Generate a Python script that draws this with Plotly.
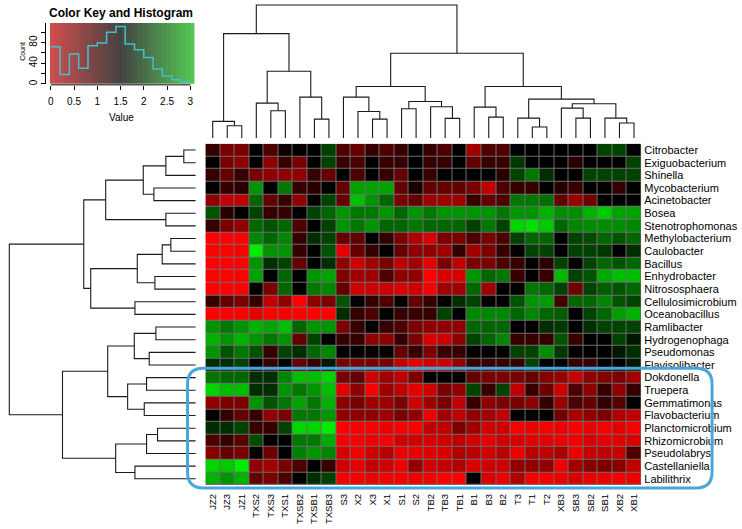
import plotly.graph_objects as go

W, H = 742, 529

col_labels = ["JZ2", "JZ3", "JZ1", "TXS2", "TXS3", "TXS1", "TXSB2", "TXSB1", "TXSB3",
              "S3", "X2", "X3", "X1", "S1", "S2", "TB2", "TB3", "TB1", "B1", "B3", "B2",
              "T3", "T1", "T2", "XB3", "SB3", "SB2", "SB1", "XB2", "XB1"]

row_labels = ["Citrobacter", "Exiguobacterium", "Shinella", "Mycobacterium", "Acinetobacter",
              "Bosea", "Stenotrophomonas", "Methylobacterium", "Caulobacter", "Bacillus",
              "Enhydrobacter", "Nitrososphaera", "Cellulosimicrobium", "Oceanobacillus",
              "Ramlibacter", "Hydrogenophaga", "Pseudomonas", "Flavisolibacter", "Dokdonella",
              "Truepera", "Gemmatimonas", "Flavobacterium", "Planctomicrobium", "Rhizomicrobium",
              "Pseudolabrys", "Castellaniella", "Labilithrix"]

values = [
    [1.3, 1.0, 1.0, 1.5, 1.2, 1.45, 1.5, 1.5, 1.8, 1.2, 1.1, 1.3, 1.2, 1.3, 1.5, 1.3, 1.2, 1.5, 0.8, 1.2, 1.2, 1.5, 1.5, 1.5, 1.5, 1.5, 1.5, 1.8, 1.8, 1.5],
    [1.5, 1.0, 0.9, 1.5, 0.9, 1.3, 1.0, 1.5, 1.8, 1.3, 1.2, 1.5, 1.3, 1.3, 1.5, 1.3, 1.3, 1.5, 1.1, 1.3, 1.3, 1.75, 1.5, 1.5, 1.5, 1.35, 1.5, 1.5, 1.5, 1.8],
    [1.3, 1.1, 1.3, 1.0, 0.9, 0.9, 0.9, 1.3, 1.1, 1.5, 1.2, 1.5, 1.3, 1.1, 1.5, 1.3, 1.5, 1.5, 1.5, 1.5, 1.35, 1.8, 2.1, 1.7, 1.5, 1.5, 1.8, 1.8, 1.8, 1.8],
    [1.5, 1.3, 1.35, 2.3, 1.5, 2.1, 1.3, 1.35, 1.5, 1.1, 2.4, 2.4, 2.4, 1.1, 1.4, 1.1, 1.1, 1.1, 1.0, 0.6, 1.2, 1.3, 1.3, 1.5, 1.35, 1.3, 1.5, 1.5, 1.3, 1.5],
    [0.9, 0.6, 0.6, 2.0, 1.1, 1.3, 0.9, 1.5, 1.8, 1.1, 2.6, 2.3, 2.0, 1.0, 1.1, 0.8, 0.8, 0.8, 1.3, 1.1, 1.2, 2.1, 2.1, 2.05, 1.1, 0.85, 1.05, 1.5, 1.5, 1.5],
    [1.9, 1.35, 1.5, 1.8, 1.3, 1.3, 1.5, 1.8, 2.0, 2.3, 2.1, 2.1, 2.3, 2.0, 2.3, 2.1, 2.3, 2.3, 2.3, 2.3, 2.1, 2.3, 2.3, 2.5, 2.25, 2.25, 2.5, 2.7, 2.4, 2.4],
    [1.3, 1.0, 0.9, 2.0, 1.9, 2.0, 1.2, 1.5, 1.8, 2.3, 2.1, 2.3, 2.0, 2.0, 2.1, 2.0, 2.0, 2.0, 1.8, 2.1, 1.8, 2.8, 2.9, 2.7, 2.0, 2.2, 2.25, 2.25, 2.25, 2.2],
    [0.0, 0.0, 0.0, 2.2, 2.0, 2.2, 1.3, 1.7, 1.8, 1.1, 1.1, 1.5, 1.3, 1.0, 0.7, 0.4, 1.0, 1.0, 1.2, 1.0, 1.2, 1.8, 2.0, 2.0, 1.5, 1.8, 1.85, 2.0, 1.9, 2.0],
    [0.0, 0.0, 0.0, 3.0, 2.3, 2.3, 1.3, 1.5, 1.9, 0.3, 1.1, 1.3, 1.5, 1.1, 0.9, 0.9, 0.8, 1.3, 0.8, 1.0, 1.3, 1.5, 1.8, 1.8, 1.5, 1.8, 1.8, 1.75, 1.5, 1.7],
    [0.0, 0.0, 0.0, 2.3, 1.7, 1.8, 1.1, 1.5, 1.7, 0.9, 0.5, 0.8, 1.0, 0.6, 0.8, 0.3, 1.0, 0.6, 1.0, 1.0, 1.2, 1.3, 1.5, 1.35, 1.8, 1.5, 1.8, 2.0, 1.9, 2.0],
    [0.0, 0.0, 0.0, 2.4, 1.5, 2.0, 1.5, 2.3, 2.4, 1.0, 0.8, 0.8, 1.2, 0.9, 0.9, 0.0, 0.4, 0.4, 2.3, 2.0, 2.1, 1.3, 1.5, 1.3, 2.55, 1.8, 1.9, 2.45, 2.6, 2.6],
    [0.0, 0.0, 0.0, 1.5, 1.0, 2.0, 1.5, 2.1, 2.2, 1.1, 0.5, 0.5, 0.5, 0.4, 0.5, 0.1, 0.8, 0.8, 2.0, 0.8, 1.5, 1.5, 2.1, 2.0, 1.8, 1.05, 1.8, 1.95, 1.9, 2.0],
    [1.3, 1.1, 1.0, 1.3, 0.6, 0.9, 0.0, 0.9, 1.0, 1.9, 1.5, 1.3, 1.2, 1.5, 1.1, 1.3, 1.5, 1.7, 1.8, 1.5, 1.5, 1.9, 2.3, 2.35, 1.25, 2.0, 2.0, 2.2, 1.9, 1.8],
    [0.0, 0.0, 0.0, 0.3, 0.0, 0.1, 0.0, 0.0, 0.0, 1.7, 1.3, 1.2, 1.5, 1.3, 1.3, 1.3, 1.8, 1.5, 2.2, 2.2, 2.2, 2.0, 2.2, 2.0, 1.95, 1.5, 1.8, 2.0, 2.35, 2.5],
    [2.3, 2.1, 2.3, 2.5, 2.4, 2.6, 2.0, 2.3, 2.3, 1.0, 1.3, 1.5, 1.3, 1.2, 1.0, 0.9, 0.9, 0.9, 2.0, 2.0, 2.0, 1.5, 1.5, 1.7, 1.75, 1.5, 1.7, 1.8, 1.8, 1.8],
    [2.5, 2.3, 2.5, 2.3, 2.1, 2.3, 1.1, 1.8, 1.5, 1.3, 1.3, 0.9, 0.9, 1.3, 1.0, 0.4, 0.5, 0.9, 1.8, 2.0, 2.2, 1.3, 1.3, 1.3, 1.9, 1.3, 1.5, 1.5, 1.8, 1.6],
    [2.3, 1.9, 2.1, 1.9, 1.3, 1.8, 1.7, 2.0, 2.2, 1.5, 1.5, 1.5, 1.5, 1.1, 1.3, 1.0, 1.3, 1.3, 1.5, 1.5, 1.5, 1.8, 1.8, 2.25, 1.75, 1.5, 1.5, 1.5, 1.6, 1.7],
    [1.7, 1.7, 1.8, 1.5, 1.3, 1.5, 1.1, 1.3, 1.6, 1.0, 1.0, 1.0, 1.0, 0.6, 0.3, 0.5, 0.5, 0.9, 1.3, 1.3, 1.3, 1.3, 1.8, 1.5, 1.5, 1.3, 1.3, 1.5, 1.5, 1.6],
    [2.1, 2.0, 2.0, 1.7, 1.7, 2.2, 2.6, 2.6, 2.8, 1.0, 1.1, 0.5, 0.8, 0.6, 1.0, 1.5, 1.5, 1.5, 1.1, 1.0, 1.0, 1.0, 1.1, 0.95, 0.85, 0.55, 0.9, 0.95, 1.0, 0.8],
    [2.8, 2.6, 2.6, 1.7, 1.7, 2.3, 2.1, 2.3, 2.6, 0.3, 0.9, 0.1, 0.8, 0.6, 0.3, 0.5, 1.0, 0.9, 1.8, 1.3, 1.8, 0.6, 1.3, 1.05, 0.5, 1.2, 0.9, 1.3, 0.9, 1.3],
    [0.9, 1.0, 1.0, 2.3, 1.9, 2.1, 2.4, 2.1, 2.5, 0.9, 1.0, 0.8, 0.8, 1.0, 0.5, 0.8, 1.0, 0.6, 1.3, 0.9, 1.0, 1.0, 0.9, 1.3, 0.85, 1.2, 1.1, 1.3, 1.15, 1.5],
    [1.5, 1.3, 1.1, 1.3, 0.9, 1.0, 2.1, 2.1, 2.3, 0.9, 0.9, 0.9, 0.8, 1.0, 0.9, 0.2, 0.8, 0.6, 0.9, 0.8, 0.6, 1.5, 1.5, 1.5, 1.05, 0.75, 0.9, 1.0, 0.7, 0.6],
    [1.7, 1.7, 1.8, 1.3, 1.3, 1.8, 2.8, 2.8, 3.0, 0.0, 0.1, 0.1, 0.2, 0.1, 0.1, 0.6, 0.6, 1.0, 0.8, 0.5, 0.5, 0.1, 0.2, 0.1, 0.2, 0.1, 0.25, 0.1, 0.3, 0.1],
    [1.2, 1.3, 1.15, 1.85, 1.5, 1.5, 2.1, 2.1, 2.45, 0.1, 0.1, 0.2, 0.1, 0.5, 0.5, 0.45, 0.5, 0.6, 0.5, 0.3, 0.5, 0.45, 0.3, 0.3, 0.2, 0.15, 0.45, 0.3, 0.35, 0.4],
    [0.95, 1.1, 1.0, 1.5, 1.05, 1.5, 2.15, 2.3, 2.2, 0.45, 0.15, 0.5, 0.65, 0.2, 0.25, 0.35, 0.4, 0.7, 0.65, 0.5, 0.65, 0.2, 0.65, 0.6, 0.75, 0.2, 0.55, 0.6, 0.55, 1.2],
    [2.8, 2.7, 3.0, 0.9, 0.8, 1.0, 1.2, 1.5, 1.3, 0.5, 0.3, 0.6, 0.5, 0.2, 0.9, 0.5, 0.6, 0.7, 0.4, 0.5, 0.5, 0.9, 0.9, 0.9, 0.2, 0.8, 0.95, 1.0, 0.95, 0.6],
    [2.5, 2.3, 2.5, 1.1, 1.0, 1.2, 1.5, 1.7, 1.8, 0.1, 0.1, 0.2, 0.1, 0.1, 0.2, 0.1, 0.0, 0.0, 1.5, 0.4, 0.2, 0.7, 0.1, 0.1, 0.2, 0.4, 0.2, 0.2, 0.1, 0.2],
]

# dendrogram merges: (child_a, child_b, height); ints refer to earlier merges
col_merges = [
    ("JZ3", "JZ1", 37), ("JZ2", 0, 50), ("TXS3", "TXS1", 82), ("TXS2", 2, 105),
    ("TXSB1", "TXSB3", 57), ("TXSB2", 4, 123), (3, 5, 201), (1, 6, 314),
    ("X3", "X1", 57), ("X2", 8, 80), ("S3", 9, 123), ("S1", "S2", 88),
    ("TB3", "TB1", 59), ("TB2", 12, 94), (11, 13, 110), (10, 14, 155),
    ("B3", "B2", 63), ("B1", 16, 93), ("T1", "T2", 33), ("T3", 18, 60),
    ("SB3", "SB2", 60), ("XB3", 20, 90), ("XB2", "XB1", 45), ("SB1", 22, 60),
    (21, 23, 103), (19, 24, 117), (17, 25, 155), (15, 26, 255), (7, 27, 400),
]

row_merges = [
    ("Citrobacter", "Exiguobacterium", 36), ("Shinella", 0, 90),
    ("Mycobacterium", "Acinetobacter", 126), (1, 2, 158),
    ("Bosea", "Stenotrophomonas", 90), (3, 4, 271),
    ("Methylobacterium", "Caulobacter", 75), ("Bacillus", 6, 101),
    ("Enhydrobacter", "Nitrososphaera", 123), (7, 8, 176),
    ("Cellulosimicrobium", "Oceanobacillus", 183), (9, 10, 316), (5, 11, 337),
    ("Ramlibacter", "Hydrogenophaga", 120), ("Pseudomonas", "Flavisolibacter", 140),
    (13, 14, 185), ("Dokdonella", "Truepera", 148), ("Gemmatimonas", "Flavobacterium", 155),
    (16, 17, 205), (15, 18, 265), ("Planctomicrobium", "Rhizomicrobium", 115),
    (20, "Pseudolabrys", 148), ("Castellaniella", "Labilithrix", 183), (21, 22, 241),
    (19, 23, 401), (12, 24, 561),
]

hist_edges = [0.0, 0.2, 0.4, 0.6, 0.8, 1.0, 1.2, 1.4, 1.6, 1.8, 2.0, 2.2, 2.4, 2.6, 2.8, 3.0]
hist_counts = [72, 18, 58, 30, 74, 79, 100, 111, 77, 66, 51, 29, 15, 8, 4]
key_ticks = [0, 0.5, 1, 1.5, 2, 2.5, 3]
count_ticks = [0, 20, 40, 60, 80, 100]
count_labels = ["0", "", "40", "", "80", ""]

FONT = "Liberation Sans, Arial, sans-serif"


def px_x(p):
    return p / W


def px_y(p):
    return 1 - p / H


def dendro_segments(labels, merges):
    pos, hgt = {}, {}
    for i, lab in enumerate(labels):
        pos[lab] = float(i)
        hgt[lab] = 0.0
    segs_p, segs_h = [], []
    for k, (a, b, h) in enumerate(merges):
        pa, pb = pos[a], pos[b]
        ha, hb = hgt[a], hgt[b]
        segs_p += [pa, pa, pb, pb, None]
        segs_h += [ha, h, h, hb, None]
        pos[k] = (pa + pb) / 2
        hgt[k] = h
    return segs_p, segs_h


heat_colorscale = [
    [0.0, "rgb(255,0,0)"], [0.15, "rgb(215,0,0)"], [0.3, "rgb(145,0,0)"],
    [0.42, "rgb(65,0,0)"], [0.5, "rgb(0,0,0)"], [0.58, "rgb(0,55,0)"],
    [0.7, "rgb(0,120,0)"], [0.85, "rgb(0,185,0)"], [1.0, "rgb(0,235,0)"],
]
key_colorscale = [[0, "rgb(208,78,78)"], [0.5, "rgb(68,66,66)"], [1, "rgb(84,196,84)"]]

fig = go.Figure()

# main heatmap
fig.add_trace(go.Heatmap(
    z=values, x=list(range(len(col_labels))), y=list(range(len(row_labels))),
    colorscale=heat_colorscale, zmin=0, zmax=3, showscale=False,
    xgap=1, ygap=1, hoverinfo="skip", xaxis="x", yaxis="y"))

# column dendrogram
cp, ch = dendro_segments(col_labels, col_merges)
fig.add_trace(go.Scatter(x=cp, y=ch, mode="lines", line=dict(color="#1a1a1a", width=1.1),
                         hoverinfo="skip", showlegend=False, xaxis="x2", yaxis="y2"))

# row dendrogram
rp, rh = dendro_segments(row_labels, row_merges)
fig.add_trace(go.Scatter(x=rh, y=rp, mode="lines", line=dict(color="#1a1a1a", width=1.1),
                         hoverinfo="skip", showlegend=False, xaxis="x3", yaxis="y3"))

# color key
nstripe = 30
k_lo, k_hi = -0.02, 3.09
k_edges = [k_lo + (k_hi - k_lo) * i / nstripe for i in range(nstripe + 1)]
k_centers = [(k_edges[i] + k_edges[i + 1]) / 2 for i in range(nstripe)]
fig.add_trace(go.Heatmap(
    z=[k_centers], x=k_edges, y=[0, 118], colorscale=key_colorscale, zmin=0, zmax=3,
    showscale=False, hoverinfo="skip", xaxis="x4", yaxis="y4"))
fig.add_trace(go.Scatter(
    x=hist_edges, y=hist_counts + [hist_counts[-1]], mode="lines", line_shape="hv",
    line=dict(color="#3cc4cc", width=1.5), hoverinfo="skip", showlegend=False,
    xaxis="x4", yaxis="y4"))

hm_x = [px_x(204), px_x(641)]
hm_y = [px_y(486), px_y(144)]
ncol, nrow = len(col_labels), len(row_labels)

fig.update_layout(
    width=W, height=H, margin=dict(l=0, r=0, t=0, b=0),
    paper_bgcolor="white", plot_bgcolor="white", showlegend=False,
    font=dict(family=FONT, color="black"),
    xaxis=dict(domain=hm_x, range=[-0.5, ncol - 0.5], tickvals=list(range(ncol)),
               ticktext=col_labels, tickangle=-90, tickfont=dict(size=9.5),
               showgrid=False, zeroline=False, ticks="", ticklabelstandoff=6,
               anchor="y"),
    yaxis=dict(domain=hm_y, range=[nrow - 0.5, -0.5], tickvals=list(range(nrow)),
               ticktext=row_labels, side="right", tickfont=dict(size=11),
               showgrid=False, zeroline=False, ticks="", ticklabelstandoff=2,
               anchor="x"),
    xaxis2=dict(domain=hm_x, range=[-0.5, ncol - 0.5], visible=False, anchor="y2"),
    yaxis2=dict(domain=[px_y(138.3), 1.0], range=[0, 415], visible=False, anchor="x2"),
    xaxis3=dict(domain=[0.0, px_x(194.3)], range=[583, 0], visible=False, anchor="y3"),
    yaxis3=dict(domain=hm_y, range=[nrow - 0.5, -0.5], visible=False, anchor="x3"),
    xaxis4=dict(domain=[px_x(48), px_x(193)], range=[k_lo, k_hi], tickvals=key_ticks,
                ticks="outside", ticklen=4, tickcolor="black", showline=False,
                showgrid=False, zeroline=False, tickfont=dict(size=10),
                anchor="free", position=px_y(85), ticklabelstandoff=3),
    yaxis4=dict(domain=[px_y(84), px_y(23)], range=[0, 118], tickvals=count_ticks,
                ticktext=count_labels, tickangle=-90, ticks="outside", ticklen=4,
                tickcolor="black", showline=True, linecolor="black", linewidth=1,
                showgrid=False, zeroline=False, tickfont=dict(size=10),
                anchor="free", position=px_x(43)),
)

# grey grid behind heatmap
fig.add_shape(type="rect", xref="x", yref="y", x0=-0.5, x1=ncol - 0.5, y0=-0.5,
              y1=nrow - 0.5, fillcolor="#6e6e6e", line=dict(width=0), layer="below")

# key x-axis baseline (from first to last tick)
fig.add_shape(type="line", xref="x4", yref="paper", x0=key_ticks[0], x1=key_ticks[-1],
              y0=px_y(85), y1=px_y(85), line=dict(color="black", width=1))

# annotations for key
fig.add_annotation(x=px_x(119), y=px_y(13), xref="paper", yref="paper",
                   text="<b>Color Key and Histogram</b>", showarrow=False,
                   font=dict(size=12, family=FONT), xanchor="center", yanchor="middle")
fig.add_annotation(x=px_x(120), y=px_y(118), xref="paper", yref="paper", text="Value",
                   showarrow=False, font=dict(size=10, family=FONT),
                   xanchor="center", yanchor="middle")
fig.add_annotation(x=px_x(21), y=px_y(51), xref="paper", yref="paper", text="Count",
                   showarrow=False, textangle=-90, font=dict(size=7, family=FONT),
                   xanchor="center", yanchor="middle")

# blue rounded box highlight
bx0, bx1, by0, by1, r = 186, 712, 369, 489, 16


def P(x, y):
    return f"{px_x(x):.5f},{px_y(y):.5f}"


path = (f"M {P(bx0 + r, by0)} L {P(bx1 - r, by0)} Q {P(bx1, by0)} {P(bx1, by0 + r)} "
        f"L {P(bx1, by1 - r)} Q {P(bx1, by1)} {P(bx1 - r, by1)} "
        f"L {P(bx0 + r, by1)} Q {P(bx0, by1)} {P(bx0, by1 - r)} "
        f"L {P(bx0, by0 + r)} Q {P(bx0, by0)} {P(bx0 + r, by0)} Z")
fig.add_shape(type="path", xref="paper", yref="paper", path=path,
              line=dict(color="#4aa6da", width=3), fillcolor="rgba(0,0,0,0)", layer="above")

fig.write_html("out.html", config={"displayModeBar": False},
               post_script="document.body.style.margin='0';document.body.style.overflow='hidden';")
